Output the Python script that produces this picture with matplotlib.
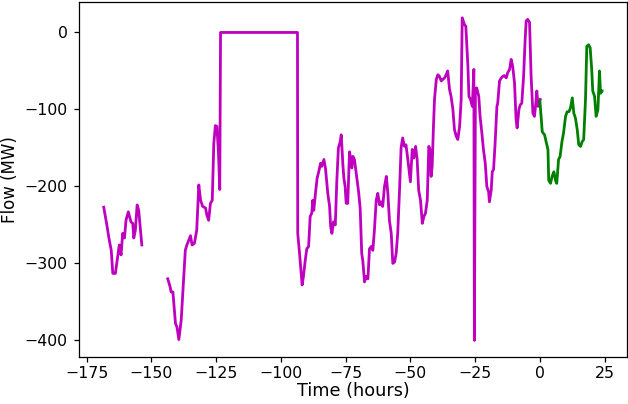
import numpy as np
import matplotlib
matplotlib.use('Agg')
import matplotlib.pyplot as plt

# past flow (magenta), NaN marks the data gap
hist_time = [
    -168.4, -167.2, -166.4, -165.5, -164.9, -163.9, -163.0, -162.4, -161.7, -161.1,
    -160.4, -159.8, -158.9, -157.9, -157.2, -156.8, -156.2, -155.5, -154.9, -153.7,
    -148.0,
    -143.7, -142.8, -142.4, -141.7, -141.1, -140.7, -140.1, -139.4, -138.5, -137.9,
    -136.9, -136.3, -135.8, -134.9, -134.3, -133.4, -132.5, -131.7, -131.0, -130.2,
    -129.1, -128.6, -127.9, -127.2, -126.5, -125.9, -125.3, -124.7, -124.1, -123.6,
    -123.3, -93.6,
    -93.5, -92.8, -91.8, -91.3, -90.6, -90.0, -89.3, -88.7, -88.1, -87.7,
    -87.3, -86.6, -86.0, -85.4, -84.7, -84.2, -83.4, -82.8, -81.9, -81.2,
    -80.8, -80.3, -79.7, -79.0, -78.4, -77.8, -77.1, -76.7, -76.1, -75.7,
    -75.2, -74.8, -74.2, -73.5, -73.0, -72.6, -72.2, -71.6, -70.9, -70.0,
    -69.4, -68.8, -68.4, -67.7, -67.1, -66.4, -65.8, -65.1, -64.5, -63.9,
    -63.2, -62.6, -61.9, -61.3, -60.7, -60.0, -59.3, -58.7, -58.1, -57.4,
    -56.8, -56.1, -55.5, -54.9, -54.2, -53.6, -53.0, -52.3, -51.7, -51.0,
    -50.4, -50.0, -49.3, -48.7, -48.0, -47.4, -46.8, -46.1, -45.4, -44.8,
    -44.2, -43.5, -42.9, -42.4, -42.0, -41.6, -41.1, -40.7, -40.0, -39.4,
    -38.8, -38.1, -37.5, -36.8, -36.2, -35.6, -34.9, -34.3, -33.6, -33.0,
    -32.3, -31.7, -31.0, -30.4, -30.0, -29.6, -29.1, -28.6, -27.8, -27.4,
    -26.8, -26.1, -25.5, -25.3, -24.9, -24.4, -23.6, -23.1, -22.4, -21.8,
    -21.1, -20.5, -19.8, -19.5, -18.8, -18.4, -17.9, -17.3, -16.6, -16.3,
    -15.6, -14.9, -14.3, -13.7, -13.0, -12.4, -11.7, -11.1, -10.5, -9.8,
    -9.2, -8.8, -8.1, -7.6, -7.0, -6.3, -5.7, -5.3, -4.7, -4.0,
    -3.4, -2.7, -2.1, -1.7, -1.2, -0.7, -0.2, 0.1,
]
hist_flow = [
    -227, -250, -267, -283, -313, -313, -291, -276, -289, -261,
    -267, -244, -233, -246, -248, -267, -257, -224, -231, -276,
    np.nan,
    -320, -330, -337, -337, -361, -378, -383, -399, -374, -339,
    -283, -276, -272, -264, -276, -274, -257, -198, -218, -226,
    -228, -237, -244, -222, -218, -144, -121, -122, -157, -204,
    0, 0,
    -261, -287, -328, -317, -296, -281, -278, -239, -235, -218,
    -231, -207, -189, -181, -170, -174, -165, -176, -209, -226,
    -252, -261, -246, -250, -192, -150, -142, -133, -170, -189,
    -200, -222, -222, -155, -165, -176, -161, -165, -183, -207,
    -228, -287, -296, -324, -317, -320, -281, -278, -283, -257,
    -218, -209, -224, -220, -226, -200, -187, -209, -244, -261,
    -300, -298, -287, -261, -205, -150, -137, -148, -146, -165,
    -183, -194, -152, -163, -148, -165, -205, -218, -248, -239,
    -235, -218, -148, -152, -187, -174, -122, -87, -61, -55,
    -57, -63, -61, -59, -55, -50, -74, -83, -100, -126,
    -135, -139, -122, -87, 19, 15, 10, 8, -44, -83,
    -87, -96, -48, -400, -74, -72, -83, -109, -131, -152,
    -170, -200, -207, -220, -205, -181, -178, -144, -96, -92,
    -63, -59, -57, -56, -59, -52, -48, -35, -44, -66,
    -113, -124, -100, -94, -92, -57, -9, 15, 17, 13,
    -57, -105, -109, -96, -76, -96, -89, -87,
]

# forecast flow (green)
fc_time = [
    0.0, 0.9, 1.8, 2.4, 3.1, 3.4, 4.1, 4.7, 5.4, 6.0,
    6.5, 7.2, 7.8, 8.5, 9.1, 9.9, 10.5, 11.2, 11.8, 12.5,
    13.1, 13.7, 14.4, 15.0, 15.7, 16.3, 16.9, 17.6, 18.1, 18.8,
    19.4, 20.0, 20.4, 21.1, 21.7, 22.4, 23.0, 23.4, 23.9, 24.0,
]
fc_flow = [
    -89, -129, -133, -142, -152, -192, -196, -187, -181, -192,
    -196, -165, -161, -142, -131, -109, -103, -103, -98, -85,
    -105, -111, -126, -146, -148, -142, -139, -87, -18, -16,
    -20, -48, -76, -83, -109, -100, -50, -79, -76, -76,
]

# reference looks rendered a bit larger than matplotlib defaults
SCALE = 1.13
plt.rcParams.update({
    'axes.linewidth': 0.8 * SCALE,
    'xtick.major.size': 3.5 * SCALE,
    'ytick.major.size': 3.5 * SCALE,
    'xtick.major.width': 0.8 * SCALE,
    'ytick.major.width': 0.8 * SCALE,
    'xtick.major.pad': 2.8,
    'ytick.major.pad': 3.5 * SCALE,
    'xtick.labelsize': 11.3,
    'ytick.labelsize': 11.3,
})

fig = plt.figure(figsize=(6.28, 4.04), dpi=100)
ax = fig.add_axes([0.1255, 0.1175, 0.8729, 0.8783])

ax.plot(hist_time, hist_flow, color='m', linewidth=2.0)
ax.plot(fc_time, fc_flow, color='g', linewidth=2.0)

ax.set_xlabel('Time (hours)', fontsize=12.7)
ax.set_ylabel('Flow (MW)', fontsize=12)
ax.xaxis.set_label_coords(0.5, -0.073)
ax.yaxis.set_label_coords(-0.11, 0.5)
ax.set_xticks([-175, -150, -125, -100, -75, -50, -25, 0, 25])
ax.set_yticks([-400, -300, -200, -100, 0])

fig.savefig('out.png', dpi=100)
